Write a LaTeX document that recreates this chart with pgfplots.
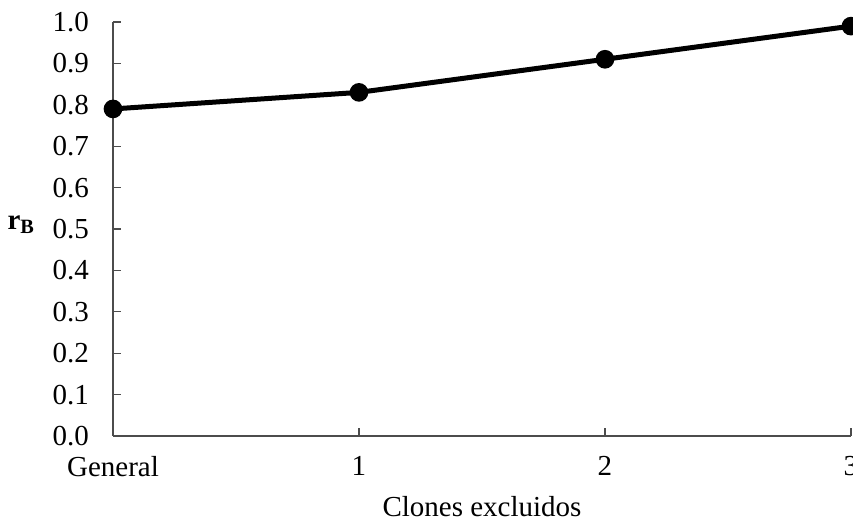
\documentclass[border=0pt]{standalone}
\usepackage{fontspec}
\setmainfont{Liberation Serif}
\usepackage{pgfplots}
\pgfplotsset{compat=1.18}
\usetikzlibrary{calc}

\begin{document}
\fontsize{14.5}{17}\selectfont
\begin{tikzpicture}
\begin{axis}[
    scale only axis,
    width=369pt, height=207pt,
    xmin=0, xmax=3, ymin=0, ymax=1,
    axis lines=left,
    axis line style={black!70, line width=0.6pt, -},
    xtick={0,1,2,3},
    xticklabels={General,1,2,3},
    ytick={0,0.1,...,1.0},
    yticklabel style={/pgf/number format/fixed, /pgf/number format/fixed zerofill, /pgf/number format/precision=1, xshift=-7pt},
    /pgf/number format/assume math mode=true,
    tick align=inside,
    major tick length=4pt,
    tick style={black!70, line width=0.6pt},
    xticklabel style={yshift=-5pt},
    xlabel={Clones excluidos},
    xlabel style={yshift=0pt},
    ylabel={\textbf{r}\textsubscript{\textbf{B}}},
    ylabel style={rotate=-90, at={(axis description cs:0,0.5)}, anchor=east, xshift=-34pt, yshift=2pt},
    clip=false,
]
\addplot[black, line width=2.5pt, mark=*, mark size=3.4pt] coordinates {
    (0,0.79) (1,0.83) (2,0.91) (3,0.99)
};
\coordinate (O) at (rel axis cs:0,0);
\end{axis}
\pgfresetboundingbox
\path[use as bounding box] ($(O)+(-56.5pt,-44.5pt)$) rectangle ($(O)+(370pt,218pt)$);
\end{tikzpicture}
\end{document}
